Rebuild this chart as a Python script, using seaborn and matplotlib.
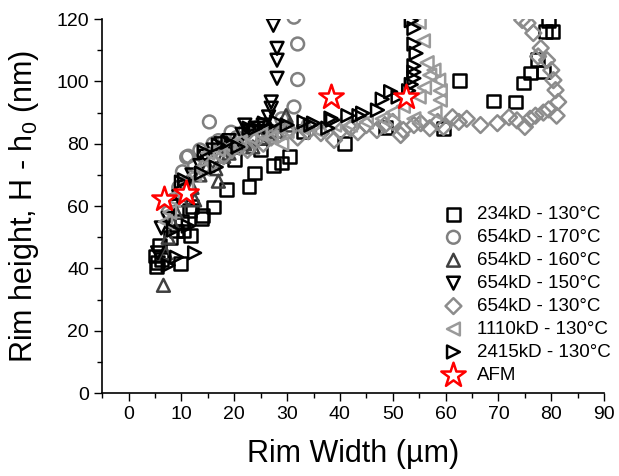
import matplotlib
matplotlib.use("Agg")
import matplotlib.pyplot as plt
import seaborn as sns
import pandas as pd
from matplotlib.ticker import MultipleLocator

# Data (rim width in um, rim height in nm)
sq_x = [5.0, 5.3, 5.5, 5.8, 6.2, 7.9, 9.0, 9.8, 10.0, 10.5, 11.5, 11.7, 12.0, 13.8, 14.0, 16.0,
        18.5, 20.0, 22.8, 23.8, 25.0, 27.5, 28.9, 30.5, 33.0, 40.8, 48.7, 59.6, 62.6, 69.0, 73.2,
        74.7, 76.0, 77.4, 78.5, 78.9, 79.4, 80.2]
sq_y = [44, 40.5, 42, 47.5, 43, 50, 52, 41.7, 55, 52, 58.7, 50.7, 60, 56, 57, 59.7,
        65.4, 75, 66.4, 70.6, 78, 73, 73.8, 76, 84, 80, 85.3, 85, 100.4, 93.7, 93.4,
        99.5, 102.7, 107, 103, 116, 119.6, 116]

ci_x = [7.5, 8.5, 9.5, 10.2, 11.0, 11.3, 12.5, 13.5, 15.3, 16.0, 17.0, 18.0, 19.4, 20.5, 22.0,
        23.5, 25.0, 27.0, 29.0, 31.3, 32.0, 32.0, 31.3, 34.0]
ci_y = [58, 62, 66, 71, 75.7, 76, 73, 78, 87, 80, 81, 79, 83.7, 82, 84,
        81, 86, 84, 88, 91.8, 100.6, 112, 120.6, 86]

up_x = [6.6, 7.0, 7.5, 8.2, 9.0, 10.0, 11.0, 12.0, 12.5, 13.5, 15.0, 16.5, 17.0, 18.0, 19.0,
        20.5, 22.0, 23.5, 25.0, 26.5, 28.0, 29.8, 30.5]
up_y = [34.6, 45, 50, 55, 58, 62, 65, 66, 62, 70, 73, 72, 68, 76, 77,
        79, 80, 79, 82, 83, 84, 89, 86]

dn_x = [5.5, 6.2, 7.5, 8.5, 9.5, 10.5, 12.0, 13.5, 14.5, 16.0, 17.5, 19.0, 20.0, 21.5, 22.0,
        23.0, 24.5, 25.5, 26.0, 26.5, 27.0, 27.0, 28.1, 28.1, 28.1, 27.4]
dn_y = [45, 53, 56, 60, 63, 66, 70, 73, 76, 78, 80, 81, 79, 83, 86,
        84, 85, 86, 84, 88.6, 91.4, 93.4, 101, 106.8, 110.6, 118]

di_x = [14.0, 16.0, 18.0, 19.5, 21.0, 22.5, 24.0, 25.5, 27.0, 28.5, 30.0, 32.0, 34.0, 36.4,
        38.9, 40.0, 42.0, 43.4, 45.0, 47.0, 48.5, 50.0, 51.5, 52.0, 54.0, 55.3, 57.0, 58.5,
        59.6, 61.3, 62.5, 64.0, 66.6, 69.8, 72.0, 73.5, 75.0, 76.0, 77.0, 78.5, 79.5, 81.0,
        81.3, 80.8, 80.4, 80.0, 79.2, 78.0, 77.5, 76.6, 75.5, 74.5]
di_y = [72, 74, 76, 78, 79, 78, 81, 80, 82, 83, 84, 82, 84, 83.4,
        81.2, 84, 85, 83.7, 86, 84.4, 86, 87, 82.8, 84.4, 86, 86.6, 85, 87,
        85.4, 88.5, 87, 88, 86, 86.6, 88.5, 87.5, 85.4, 88, 89, 90, 91, 89,
        93.4, 97.2, 100.4, 103.6, 106.8, 110.7, 108, 115.5, 118.7, 119.7]

lt_x = [7.0, 7.8, 8.5, 9.5, 11.0, 12.5, 14.0, 15.0, 17.0, 19.0, 21.0, 23.0, 25.0, 27.0,
        29.0, 30.0, 33.0, 36.0, 39.0, 42.0, 45.0, 48.0, 50.0, 52.0, 54.0, 55.0, 56.0, 57.0,
        57.8, 58.7, 59.0, 59.0, 56.5, 55.8, 55.0, 58.0]
lt_y = [55, 58, 62, 64, 67, 70, 72, 77, 78, 79, 81, 82, 83, 82,
        80, 84, 85, 84, 86, 86, 87, 88, 90, 92, 88, 95, 98, 102,
        103.6, 100.4, 97, 94, 106, 113, 119, 90]

rt_x = [7.5, 8.5, 9.1, 10.0, 10.6, 11.3, 12.5, 13.8, 14.3, 16.6, 17.0, 18.8, 20.7, 22.8,
        24.0, 25.7, 28.0, 30.0, 33.2, 34.5, 35.0, 37.7, 38.3, 38.6, 41.5, 43.6, 44.3, 47.1,
        48.0, 49.6, 51.0, 53.0, 53.5, 54.0, 54.0, 54.0, 54.4, 54.0, 54.0, 53.5]
rt_y = [41, 52.3, 43.6, 67.7, 68.4, 53.6, 45, 70.6, 77.4, 72.5, 79.6, 80.5, 79, 85,
        85, 86.6, 87, 86, 87, 86, 86.6, 85, 88.2, 87.6, 89, 89, 89.8, 90.8,
        94.3, 96.7, 95, 97, 99, 101, 103, 105, 109, 112, 117, 119.5]

afm_x = [6.8, 10.9, 38.3, 52.5]
afm_y = [62.2, 64.2, 95, 95]

series = [
    ("234kD - 130°C", sq_x, sq_y, "s", "black"),
    ("654kD - 170°C", ci_x, ci_y, "o", "#808080"),
    ("654kD - 160°C", up_x, up_y, "^", "#404040"),
    ("654kD - 150°C", dn_x, dn_y, "v", "black"),
    ("654kD - 130°C", di_x, di_y, "D", "#8c8c8c"),
    ("1110kD - 130°C", lt_x, lt_y, "<", "#9a9a9a"),
    ("2415kD - 130°C", rt_x, rt_y, ">", "black"),
]

sns.set_style("ticks")
plt.rcParams["font.family"] = ["Liberation Sans", "DejaVu Sans"]
plt.rcParams["mathtext.fontset"] = "custom"
plt.rcParams["mathtext.rm"] = "Liberation Sans"
plt.rcParams["mathtext.it"] = "Liberation Sans"
for key in ["text.color", "axes.labelcolor", "xtick.color", "ytick.color"]:
    plt.rcParams[key] = "black"

fig = plt.figure(figsize=(6.19, 4.76), dpi=100)
ax = fig.add_axes([0.165, 0.174, 0.811, 0.786])

for label, xs, ys, mk, col in series:
    df = pd.DataFrame({"x": xs, "y": ys})
    size = 65 if mk == "D" else 85
    sns.scatterplot(data=df, x="x", y="y", marker=mk, s=size, facecolors="none",
                    edgecolor=col, linewidths=1.8, label=label, ax=ax)

afm = pd.DataFrame({"x": afm_x, "y": afm_y})
sns.scatterplot(data=afm, x="x", y="y", marker="*", s=340, facecolors="white",
                edgecolor="red", linewidths=1.8, label="AFM", ax=ax, zorder=5)

ax.set_xlim(-5, 90)
ax.set_ylim(0, 120)
ax.xaxis.set_major_locator(MultipleLocator(10))
ax.xaxis.set_minor_locator(MultipleLocator(5))
ax.yaxis.set_major_locator(MultipleLocator(20))
ax.yaxis.set_minor_locator(MultipleLocator(10))
ax.tick_params(which="major", direction="out", length=6, width=1, labelsize=14)
ax.tick_params(which="minor", direction="out", length=3.5, width=1)
sns.despine(ax=ax)
for sp in ["left", "bottom"]:
    ax.spines[sp].set_linewidth(1.2)
    ax.spines[sp].set_color("black")

ax.set_xlabel("Rim Width (µm)", fontsize=22, labelpad=11)
ax.set_ylabel("Rim height, H - h$_0$ (nm)", fontsize=22, labelpad=11)

ax.legend(loc="upper left", bbox_to_anchor=(0.655, 0.52), frameon=False, fontsize=13.5,
          labelspacing=0.31, handletextpad=0.45, borderaxespad=0, handlelength=1.6)

fig.savefig("out.png", dpi=100)
